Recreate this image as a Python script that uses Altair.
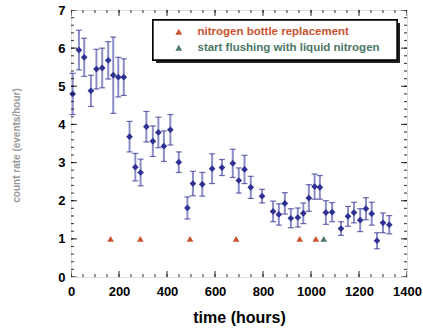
import altair as alt
import pandas as pd

# ---- data ----
hours = [7, 33, 55, 83, 106, 130, 155, 176, 197, 220,
         244, 268, 290, 314, 341, 364, 387, 414, 449, 485,
         508, 547, 588, 629, 674, 699, 723, 749, 796, 842,
         866, 891, 916, 945, 968, 991, 1015, 1037, 1062, 1088,
         1125, 1154, 1179, 1205, 1229, 1253, 1275, 1300, 1326]
rates = [4.80, 5.95, 5.76, 4.88, 5.45, 5.48, 5.68, 5.29, 5.24, 5.24,
         3.68, 2.88, 2.74, 3.94, 3.56, 3.79, 3.43, 3.86, 3.01, 1.81,
         2.45, 2.43, 2.84, 2.87, 2.98, 2.53, 2.82, 2.35, 2.12, 1.72,
         1.64, 1.93, 1.54, 1.56, 1.67, 2.07, 2.37, 2.35, 1.69, 1.70,
         1.27, 1.59, 1.69, 1.49, 1.79, 1.66, 0.95, 1.42, 1.37]
errors = [0.54, 0.52, 0.50, 0.41, 0.52, 0.52, 0.49, 1.00, 0.52, 0.48,
          0.40, 0.36, 0.35, 0.40, 0.40, 0.40, 0.40, 0.40, 0.27, 0.29,
          0.32, 0.31, 0.39, 0.21, 0.37, 0.33, 0.37, 0.29, 0.18, 0.27,
          0.28, 0.28, 0.25, 0.25, 0.27, 0.35, 0.33, 0.31, 0.31, 0.25,
          0.18, 0.26, 0.27, 0.30, 0.29, 0.30, 0.21, 0.26, 0.24]

event_hours = [165, 289, 496, 688, 953, 1020, 1053]
event_types = ["nitrogen bottle replacement"] * 6 + ["start flushing with liquid nitrogen"]
event_level = [1.0] * 7
event_domain = ["nitrogen bottle replacement", "start flushing with liquid nitrogen"]

x_major = [0, 200, 400, 600, 800, 1000, 1200, 1400]
x_minor = list(range(0, 1401, 50))
y_major = [0, 1, 2, 3, 4, 5, 6, 7]
y_minor = [i / 5 for i in range(0, 36)]

RED = "#c9532f"
GREEN = "#4b7767"
BLUE = "#2e3192"
LIGHT = "#8c8cc8"
FONT = "Liberation Sans"

W, H = 336, 267

df = pd.DataFrame({"t": hours, "r": rates, "e": errors})
df["lo"] = df["r"] - df["e"]
df["hi"] = df["r"] + df["e"]
ev = pd.DataFrame({"t": event_hours, "type": event_types, "lvl": event_level})

xs = alt.Scale(domain=[0, 1400], nice=False, zero=False)
ys = alt.Scale(domain=[0, 7], nice=False, zero=False)

xax = alt.Axis(title="time (hours)", values=x_major, format="d", ticks=False, domain=False, grid=False,
               labelOverlap=False, labelFlush=False,
               labelFont=FONT, labelFontWeight="bold", labelFontSize=13, labelColor="black",
               labelPadding=8, titleFont=FONT, titleFontWeight="bold", titleFontSize=16,
               titleColor="black", titleY=40, titleBaseline="middle")
yax = alt.Axis(title="count rate (events/hour)", values=y_major, format="d", ticks=False, domain=False,
               grid=False, labelOverlap=False, labelFlush=False,
               labelFont=FONT, labelFontWeight="bold", labelFontSize=13, labelColor="black",
               labelPadding=6, titleFont=FONT, titleFontWeight="bold", titleFontSize=10,
               titleColor="#9a9a9a", titleX=-55, titleY=135, titleAngle=-90,
               titleAlign="center", titleBaseline="middle")

X = lambda f: alt.X(f, scale=xs, axis=xax)
Y = lambda f: alt.Y(f, scale=ys, axis=yax)

base = alt.Chart(df)

bars = base.mark_rule(color=LIGHT, strokeWidth=2).encode(x=X("t:Q"), y=Y("lo:Q"), y2="hi:Q")
cap_lo = base.mark_tick(color=BLUE, thickness=1.2, size=6, orient="horizontal").encode(
    x=X("t:Q"), y=Y("lo:Q"))
cap_hi = base.mark_tick(color=BLUE, thickness=1.2, size=6, orient="horizontal").encode(
    x=X("t:Q"), y=Y("hi:Q"))
pts = base.mark_point(shape="diamond", filled=True, size=45, color=BLUE, opacity=1).encode(
    x=X("t:Q"), y=Y("r:Q"))

# legend box with shadow (decoration)
shadow = alt.Chart(df).mark_rect(color="#222222").encode(
    x=alt.value(85), x2=alt.value(329), y=alt.value(13), y2=alt.value(53))
box = alt.Chart(df).mark_rect(fill="white", stroke="black", strokeWidth=1.3).encode(
    x=alt.value(82), x2=alt.value(326), y=alt.value(10), y2=alt.value(50))

events = alt.Chart(ev).mark_point(shape="triangle-up", filled=True, size=45, opacity=1).encode(
    x=X("t:Q"), y=Y("lvl:Q"),
    color=alt.Color("type:N", scale=alt.Scale(domain=event_domain, range=[RED, GREEN]),
                    legend=alt.Legend(
                        title=None, orient="none", legendX=102, legendY=16, padding=0,
                        symbolType="triangle-up", symbolSize=45, symbolOpacity=1,
                        symbolStrokeWidth=0, labelFont=FONT, labelFontWeight="bold",
                        labelFontSize=11.5, labelOffset=13, rowPadding=3, labelLimit=400,
                        labelColor=alt.ExprRef(
                            "datum.label == 'nitrogen bottle replacement' ? '%s' : '%s'" % (RED, GREEN))
                    )))

# inward frame ticks
def xticks(vals, length, at):
    d = pd.DataFrame({"v": vals})
    return alt.Chart(d).mark_tick(color="black", thickness=1.2, size=2 * length,
                                  orient="vertical", clip=True).encode(
        x=X("v:Q"), y=alt.value(at))

def yticks(vals, length, at):
    d = pd.DataFrame({"v": vals})
    return alt.Chart(d).mark_tick(color="black", thickness=1.2, size=2 * length,
                                  orient="horizontal", clip=True).encode(
        y=Y("v:Q"), x=alt.value(at))

ticks = [xticks(x_minor, 3, H), xticks(x_major, 6, H), xticks(x_minor, 3, 0), xticks(x_major, 6, 0),
         yticks(y_minor, 3, 0), yticks(y_major, 6, 0), yticks(y_minor, 3, W), yticks(y_major, 6, W)]

chart = alt.layer(bars, cap_lo, cap_hi, pts, shadow, box, events, *ticks).properties(
    width=W, height=H,
    autosize=alt.AutoSizeParams(type="none"),
    padding={"left": 71, "top": 10, "right": 16, "bottom": 55},
).configure_view(stroke="black", strokeWidth=2.2).configure(background="white")

chart.save("out.html", embed_options={"renderer": "svg", "actions": False})
